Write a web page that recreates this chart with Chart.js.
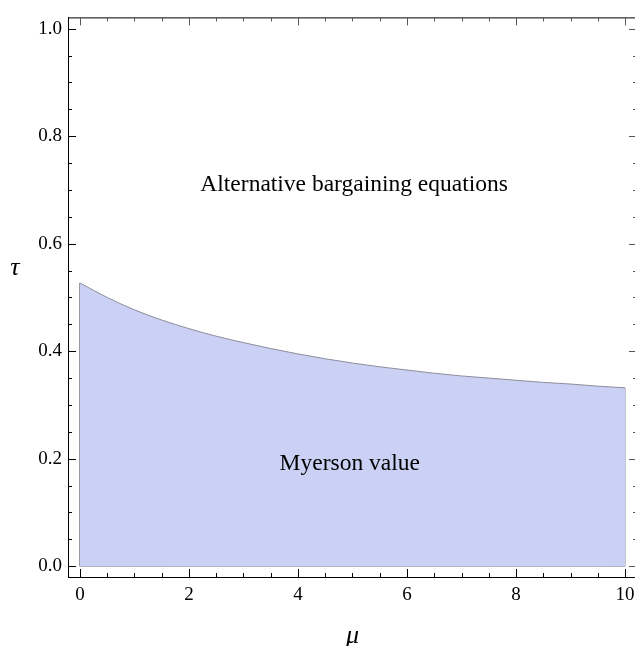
<!DOCTYPE html>
<html>
<head>
<meta charset="utf-8">
<script src="https://cdn.jsdelivr.net/npm/chart.js@4"></script>
<style>
  html, body { margin: 0; padding: 0; overflow: hidden; background: #fff; }
  canvas { display: block; }
</style>
</head>
<body>
<canvas id="regionChart" width="650" height="646"></canvas>
<script>
// boundary curve between the two regions
const mu = [0, 0.5, 1, 1.5, 2, 2.5, 3, 3.5, 4, 4.5, 5, 5.5, 6, 6.5, 7, 7.5, 8, 8.5, 9, 9.5, 10];
const tau = [0.527, 0.500, 0.477, 0.458, 0.442, 0.428, 0.416, 0.405, 0.395, 0.386, 0.378,
  0.371, 0.365, 0.359, 0.354, 0.350, 0.346, 0.342, 0.339, 0.335, 0.332];

const xTicks = [0, 2, 4, 6, 8, 10];
const yTicks = [0, 0.2, 0.4, 0.6, 0.8, 1.0];
const xMinorStep = 0.5;
const yMinorStep = 0.05;

const regionLabels = [
  { text: "Alternative bargaining equations", x: 5.03, y: 0.71 },
  { text: "Myerson value", x: 4.95, y: 0.19 },
];

const serif = "'Liberation Serif', 'DejaVu Serif', serif";
const fillColor = "rgb(203, 209, 245)";
const edgeColor = "rgb(140, 140, 155)";

let curvePts = mu.map((m, i) => ({ x: m, y: tau[i] }));
let last = mu.length - 1;
let outlinePts = [
  { x: mu[0], y: tau[0] },
  { x: mu[0], y: 0 },
  { x: mu[last], y: 0 },
  { x: mu[last], y: tau[last] },
];

const frameTicks = {
  id: "frameTicks",
  afterDraw(chart) {
    let ctx = chart.ctx;
    let a = chart.chartArea;
    let xs = chart.scales.x;
    let ys = chart.scales.y;
    ctx.save();
    ctx.strokeStyle = "#000";
    ctx.lineWidth = 1;
    ctx.beginPath();
    ctx.moveTo(a.left, a.top + 0.5);
    ctx.lineTo(a.right, a.top + 0.5);
    ctx.moveTo(a.right - 0.5, a.top);
    ctx.lineTo(a.right - 0.5, a.bottom);
    ctx.stroke();

    // x ticks (bottom + top), pointing inward
    for (let v = 0; v <= 10 + 1e-9; v += xMinorStep) {
      let major = xTicks.some((t) => Math.abs(t - v) < 1e-6);
      let len = major ? 8 : 4;
      let px = Math.round(xs.getPixelForValue(v)) + 0.5;
      ctx.strokeStyle = "#000";
      ctx.beginPath();
      ctx.moveTo(px, a.bottom);
      ctx.lineTo(px, a.bottom - len);
      ctx.stroke();
      ctx.strokeStyle = "#555";
      ctx.beginPath();
      ctx.moveTo(px, a.top);
      ctx.lineTo(px, a.top + len);
      ctx.stroke();
    }
    // y ticks (left + right)
    for (let v = 0; v <= 1.0 + 1e-9; v += yMinorStep) {
      let major = yTicks.some((t) => Math.abs(t - v) < 1e-6);
      let len = major ? 8 : 4;
      let py = Math.round(ys.getPixelForValue(v)) + 0.5;
      ctx.strokeStyle = "#000";
      ctx.beginPath();
      ctx.moveTo(a.left, py);
      ctx.lineTo(a.left + len, py);
      ctx.stroke();
      ctx.strokeStyle = "#555";
      ctx.beginPath();
      ctx.moveTo(a.right, py);
      ctx.lineTo(a.right - len, py);
      ctx.stroke();
    }

    // region labels
    ctx.fillStyle = "#000";
    ctx.font = "23.5px " + serif;
    ctx.textAlign = "center";
    ctx.textBaseline = "middle";
    regionLabels.forEach((l) => {
      ctx.fillText(l.text, xs.getPixelForValue(l.x), ys.getPixelForValue(l.y));
    });

    // axis titles
    ctx.font = "italic 26px " + serif;
    ctx.fillText("\u03bc", (a.left + a.right) / 2, 636);
    ctx.fillText("\u03c4", 15, 268);
    ctx.restore();
  },
};

let ctx = document.getElementById("regionChart").getContext("2d");
let myChart = new Chart(ctx, {
  type: "line",
  data: {
    datasets: [
      {
        data: curvePts,
        fill: "origin",
        backgroundColor: fillColor,
        borderColor: edgeColor,
        borderWidth: 1,
        pointRadius: 0,
        cubicInterpolationMode: "monotone",
      },
      {
        data: outlinePts,
        fill: false,
        borderColor: edgeColor,
        borderWidth: 1,
        pointRadius: 0,
        tension: 0,
      },
    ],
  },
  options: {
    responsive: false,
    animation: false,
    layout: { padding: { top: 9, right: 13, left: 0, bottom: 0 } },
    plugins: { legend: { display: false }, tooltip: { enabled: false } },
    scales: {
      x: {
        type: "linear",
        min: -0.22,
        max: 10.22,
        afterBuildTicks: (s) => { s.ticks = xTicks.map((v) => ({ value: v })); },
        afterFit: (s) => { s.height = 69; },
        grid: { display: false, drawTicks: false },
        border: { display: true, color: "#000", width: 1 },
        ticks: {
          color: "#000",
          font: { family: serif, size: 19 },
          padding: 7,
          maxRotation: 0,
          callback: (v) => String(v),
        },
      },
      y: {
        type: "linear",
        min: -0.02,
        max: 1.021,
        afterBuildTicks: (s) => { s.ticks = yTicks.map((v) => ({ value: v })); },
        afterFit: (s) => { s.width = 68; },
        grid: { display: false, drawTicks: false },
        border: { display: true, color: "#000", width: 1 },
        ticks: {
          color: "#000",
          font: { family: serif, size: 19 },
          padding: 6,
          callback: (v) => v.toFixed(1),
        },
      },
    },
  },
  plugins: [frameTicks],
});
</script>
</body>
</html>
